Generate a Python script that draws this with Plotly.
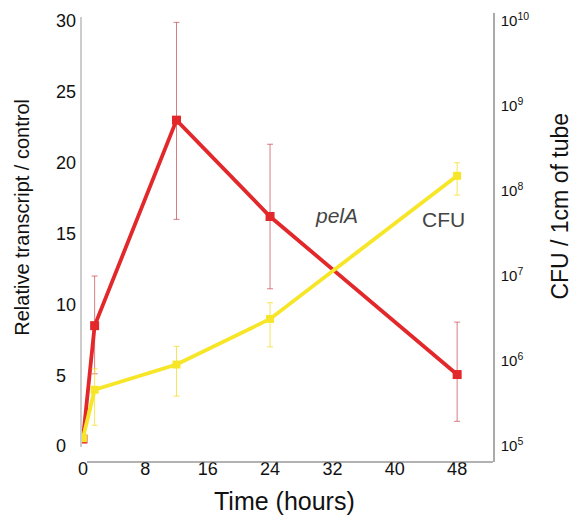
import plotly.graph_objects as go

# Time points (hours)
time_h = [0, 1.5, 12, 24, 48]

# pelA relative transcript (left axis)
pela = [0.5, 8.5, 23.0, 16.2, 5.05]
pela_hi = [0.5, 12.0, 29.9, 21.3, 8.75]
pela_lo = [0.5, 5.1, 16.0, 11.1, 1.75]

# CFU per 1 cm of tube (right, log axis)
cfu = [1.24e5, 4.6e5, 9.1e5, 3.13e6, 1.51e8]
cfu_hi = [1.24e5, 8.1e5, 1.49e6, 4.85e6, 2.15e8]
cfu_lo = [1.24e5, 1.76e5, 3.87e5, 1.47e6, 8.96e7]

x_ticks = [0, 8, 16, 24, 32, 40, 48]
y_ticks = [0, 5, 10, 15, 20, 25, 30]
y_ticktext = ["0\u2007", "5\u2007", "10", "15", "20", "25", "30"]
cfu_ticks = [1e5, 1e6, 1e7, 1e8, 1e9, 1e10]
cfu_ticktext = ["10<sup>5</sup>", "10<sup>6</sup>", "10<sup>7</sup>",
                "10<sup>8</sup>", "10<sup>9</sup>", "10<sup>10</sup>"]

RED = "#e2282a"
YEL = "#f7e628"
FONT = "Liberation Sans, Arial, sans-serif"
TXT = "#111111"

fig = go.Figure()

fig.add_trace(go.Scatter(
    x=time_h, y=cfu, yaxis="y2", mode="lines+markers",
    line=dict(color=YEL, width=3.8),
    marker=dict(symbol="square", size=8, color=YEL),
    error_y=dict(type="data", symmetric=False,
                 array=[h - v for h, v in zip(cfu_hi, cfu)],
                 arrayminus=[v - l for v, l in zip(cfu, cfu_lo)],
                 color="rgba(245,225,60,0.85)", thickness=1, width=3),
    showlegend=False,
))

fig.add_trace(go.Scatter(
    x=time_h, y=pela, mode="lines+markers",
    line=dict(color=RED, width=3.8),
    marker=dict(symbol="square", size=9, color=RED),
    error_y=dict(type="data", symmetric=False,
                 array=[h - v for h, v in zip(pela_hi, pela)],
                 arrayminus=[v - l for v, l in zip(pela, pela_lo)],
                 color="rgba(200,70,80,0.7)", thickness=1, width=3),
    showlegend=False,
))

fig.add_annotation(x=32.5, y=16.3, text="<i>pelA</i>", showarrow=False,
                   font=dict(size=21, color="#444444", family=FONT))
fig.add_annotation(x=46.3, y=16.0, text="CFU", showarrow=False,
                   font=dict(size=21, color="#444444", family=FONT))

# axis titles
fig.add_annotation(xref="paper", yref="paper", x=-0.1432, y=0.544,
                   text="Relative transcript / control", textangle=-90,
                   showarrow=False, xanchor="center", yanchor="middle",
                   font=dict(size=20, color=TXT, family=FONT))
fig.add_annotation(xref="paper", yref="paper", x=1.1626, y=0.571,
                   text="CFU / 1cm of tube", textangle=-90,
                   showarrow=False, xanchor="center", yanchor="middle",
                   font=dict(size=23, color=TXT, family=FONT))
fig.add_annotation(xref="paper", yref="paper", x=0.495, y=-0.086,
                   text="Time (hours)",
                   showarrow=False, xanchor="center", yanchor="middle",
                   font=dict(size=25, color=TXT, family=FONT))

# axis lines as in the original figure
fig.add_shape(type="line", xref="paper", yref="y", x0=0, x1=0, y0=-0.07, y1=30.28,
              line=dict(color="#cccccc", width=2))
fig.add_shape(type="line", xref="paper", yref="paper", x0=0.0146, x1=1, y0=0, y1=0,
              line=dict(color="#666666", width=1.2))

fig.update_layout(
    width=573, height=518,
    margin=dict(l=81, r=80, t=10, b=56),
    paper_bgcolor="white", plot_bgcolor="white",
    font=dict(family=FONT, color=TXT),
    xaxis=dict(
        range=[-0.25, 52.6], tickvals=x_ticks, ticks="", showgrid=False,
        zeroline=False, showline=False,
        tickfont=dict(size=18, color=TXT), ticklabelstandoff=-6,
    ),
    yaxis=dict(
        range=[-1.12, 30.56], tickvals=y_ticks, ticktext=y_ticktext, ticks="",
        showgrid=False, zeroline=False, showline=False,
        tickfont=dict(size=18, color=TXT), ticklabelstandoff=4,
    ),
    yaxis2=dict(
        type="log", range=[4.813, 10.0935], overlaying="y", side="right",
        tickvals=cfu_ticks, ticktext=cfu_ticktext, ticks="", showgrid=False,
        zeroline=False, showline=True, linecolor="#aaaaaa", linewidth=1.5,
        tickfont=dict(size=15, color=TXT), ticklabelstandoff=3,
    ),
)

fig.write_html("out.html")
